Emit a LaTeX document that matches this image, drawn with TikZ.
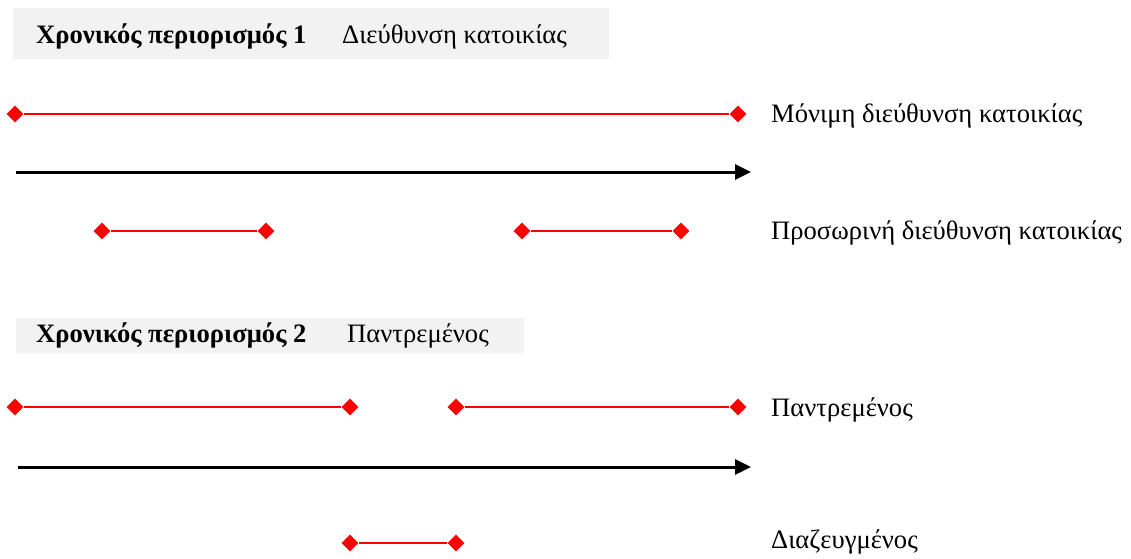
\documentclass[tikz,border=0pt]{standalone}
\usepackage{fontspec}
\setmainfont{Liberation Serif}
\usetikzlibrary{shapes.geometric,arrows.meta}
\definecolor{headgray}{HTML}{F2F2F2}
\tikzset{
  x=1pt, y=-1pt,
  every node/.style={font=\fontsize{26.6}{30}\selectfont},
  endpt/.style={diamond, fill=red, draw=none, inner sep=0pt, minimum size=17pt},
  period/.style={red, line width=2.6pt},
  timeline/.style={black, line width=3pt, -{Triangle[length=16pt,width=15pt]}},
  lbl/.style={anchor=base west, inner sep=0pt},
}
\begin{document}
\begin{tikzpicture}
\useasboundingbox (0,0) rectangle (1131,558);

% ---- section 1: residence ----
\fill[headgray] (13,8) rectangle (609,59);
\node[lbl] (h1a) at (36,43) {\textbf{Χρονικός περιορισμός 1}};
\node[lbl] (h1b) at (342,43) {Διεύθυνση κατοικίας};

\node[endpt] (p1a) at (15,114) {};
\node[endpt] (p1b) at (738,114) {};
\draw[period] (p1a) -- (p1b);
\node[lbl] (l1) at (771,122) {Μόνιμη διεύθυνση κατοικίας};

\coordinate (t1a) at (16,172);
\coordinate (t1b) at (751,172);
\draw[timeline] (t1a) -- (t1b);

\node[endpt] (q1a) at (102,231) {};
\node[endpt] (q1b) at (266,231) {};
\draw[period] (q1a) -- (q1b);
\node[endpt] (q2a) at (522,231) {};
\node[endpt] (q2b) at (681,231) {};
\draw[period] (q2a) -- (q2b);
\node[lbl] (l2) at (771,239) {Προσωρινή διεύθυνση κατοικίας};

% ---- section 2: marital status ----
\fill[headgray] (16,318) rectangle (524,353);
\node[lbl] (h2a) at (36,342) {\textbf{Χρονικός περιορισμός 2}};
\node[lbl] (h2b) at (347,342) {Παντρεμένος};

\node[endpt] (m1a) at (15,407) {};
\node[endpt] (m1b) at (350,407) {};
\draw[period] (m1a) -- (m1b);
\node[endpt] (m2a) at (456,407) {};
\node[endpt] (m2b) at (738,407) {};
\draw[period] (m2a) -- (m2b);
\node[lbl] (l3) at (771,416) {Παντρεμένος};

\coordinate (t2a) at (18,467);
\coordinate (t2b) at (751,467);
\draw[timeline] (t2a) -- (t2b);

\node[endpt] (d1a) at (350,543) {};
\node[endpt] (d1b) at (456,543) {};
\draw[period] (d1a) -- (d1b);
\node[lbl] (l4) at (771,548) {Διαζευγμένος};
\end{tikzpicture}
\end{document}
